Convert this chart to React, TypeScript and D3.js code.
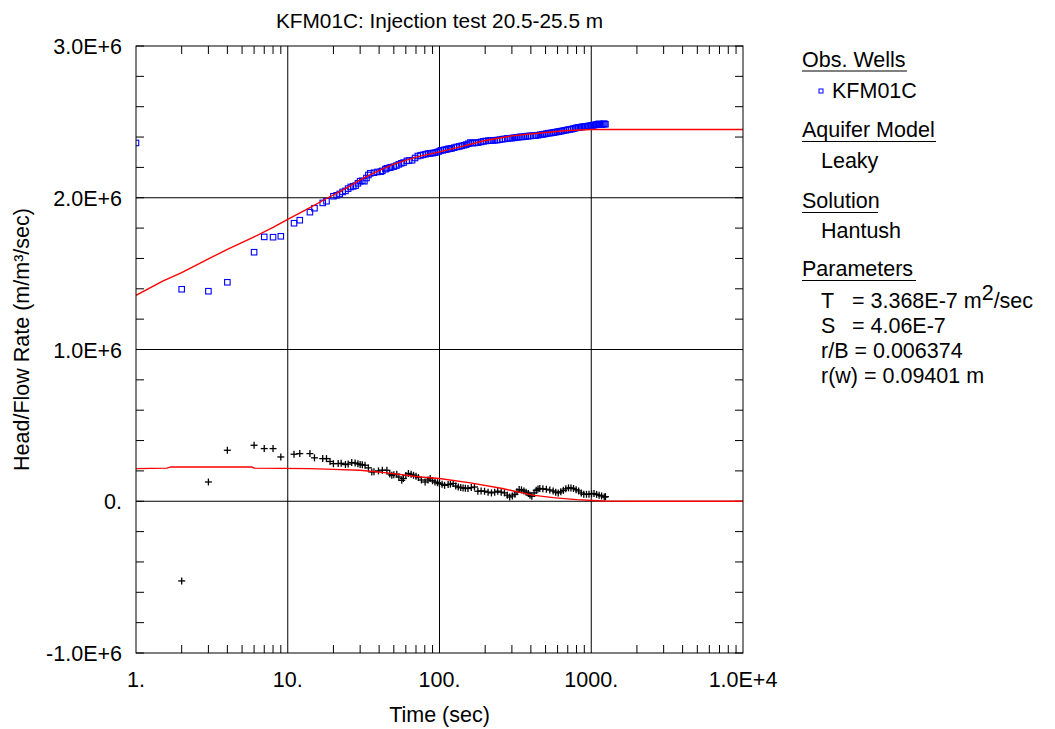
import React from "react";
import * as d3 from "d3";

// ---- Data (values in units of 1E+6 m/m³/sec) ----
const headT = [1,2,3,4,6,7,8,9,11,12,14,15,17,18,20,21,23,24,26,28,30,32,35,39,42,45,48,52,56,61,66,72,78,84,90,96,102,108,114,120,130,140,150,160,170,180,195,210,225,240,260,280,300,320,340,360,380,400,430,460,490,520,550,580,610,640,680,720,760,800,840,880,920,960,1000,1040,1080,1120,1160,1200,1240,
  22,25,27,29,31,33,34,37,41,44,47,50,54,58,63,69,75,81,87,93,99,105,111,117,125,135,145,155,165,175,188,202,217,232,250,270,290,310,330,350,370,390,415,445,475,505,535,565,595,625,660,700,740,780,820,860,900,940,980,1020,1060,1100,1140,1180,1220];
const headV = [2.361,1.397,1.384,1.443,1.641,1.742,1.740,1.746,1.832,1.852,1.905,1.931,1.966,1.977,2.010,2.016,2.038,2.045,2.071,2.080,2.109,2.109,2.161,2.170,2.177,2.194,2.201,2.212,2.227,2.243,2.247,2.275,2.283,2.291,2.294,2.300,2.312,2.316,2.322,2.325,2.335,2.342,2.350,2.364,2.361,2.364,2.372,2.376,2.378,2.380,2.386,2.391,2.393,2.397,2.401,2.402,2.406,2.408,2.410,2.415,2.419,2.425,2.428,2.432,2.436,2.440,2.445,2.450,2.455,2.461,2.464,2.468,2.470,2.473,2.475,2.479,2.481,2.487,2.483,2.486,2.484,
  2.025,2.060,2.075,2.095,2.112,2.130,2.150,2.165,2.172,2.188,2.198,2.205,2.220,2.232,2.245,2.262,2.279,2.287,2.292,2.297,2.305,2.313,2.318,2.323,2.330,2.338,2.346,2.356,2.360,2.363,2.368,2.374,2.377,2.379,2.383,2.388,2.392,2.395,2.399,2.401,2.404,2.407,2.409,2.412,2.417,2.422,2.426,2.430,2.434,2.438,2.443,2.448,2.452,2.458,2.463,2.466,2.469,2.471,2.474,2.477,2.480,2.484,2.485,2.484,2.488];

const derivT = [2,3,4,6,7,8,9,11,12,14,15,17,18,20,21.5,24,26.4,27.8,30,32.3,35.8,39.6,45,48.5,52.3,56.4,57.8,62.4,67.4,72.6,80.4,86.8,93.4,100,104,108,114,118,123,128,133,138,143,148,154,162,170,179,188,198,209,220,231,242,255,268,280,290,302,314,324,335,347,360,372,385,395,406,420,434,446,458,480,506,533,561,583,606,630,655,680,708,735,764,795,826,860,893,930,966,1005,1043,1085,1127,1170,1218,1240,
  19,22.5,25,29,31,34,37,42,47,50,54,60,65,70,76,84,90,97];
const derivV = [-0.525,0.127,0.336,0.369,0.347,0.347,0.292,0.310,0.314,0.314,0.286,0.281,0.281,0.248,0.248,0.242,0.255,0.252,0.242,0.237,0.193,0.200,0.204,0.171,0.178,0.138,0.150,0.183,0.171,0.156,0.127,0.150,0.127,0.117,0.112,0.105,0.110,0.113,0.117,0.100,0.094,0.090,0.088,0.086,0.084,0.090,0.094,0.066,0.068,0.066,0.060,0.055,0.060,0.066,0.060,0.055,0.040,0.028,0.035,0.046,0.062,0.077,0.075,0.068,0.060,0.051,0.040,0.033,0.055,0.072,0.080,0.084,0.082,0.079,0.074,0.068,0.060,0.055,0.062,0.072,0.082,0.088,0.088,0.084,0.076,0.068,0.055,0.046,0.046,0.046,0.050,0.051,0.045,0.040,0.035,0.028,0.030,
  0.262,0.250,0.245,0.247,0.240,0.220,0.195,0.205,0.180,0.175,0.160,0.170,0.178,0.165,0.140,0.140,0.135,0.122];

const fitT = [1,1.5,2,3,4,6,8,10,14,18,25,30,40,50,70,100,150,200,300,500,700,1000,10000];
const fitV = [1.357,1.450,1.507,1.597,1.660,1.742,1.805,1.858,1.935,1.995,2.070,2.118,2.180,2.222,2.268,2.302,2.345,2.377,2.408,2.430,2.443,2.450,2.450];

const derivFitT = [1,1.6,1.7,5.8,6,14,20,30,45,75,100,160,260,410,560,800,1200,2000,10000];
const derivFitV = [0.215,0.218,0.226,0.226,0.218,0.215,0.210,0.204,0.187,0.160,0.150,0.121,0.084,0.040,0.024,0.011,0.002,0,0];

const xTickVals = [1, 10, 100, 1000, 10000];
const xTickLabels = ["1.", "10.", "100.", "1000.", "1.0E+4"];
const yTickVals = [3, 2, 1, 0, -1];
const yTickLabels = ["3.0E+6", "2.0E+6", "1.0E+6", "0.", "-1.0E+6"];
const yGridVals = [2, 1, 0];
const xGridVals = [10, 100, 1000];

const W = 1055, H = 729;
const L = 136, R = 743, T = 46, B = 653;
const FONT = "Arial, 'Liberation Sans', sans-serif";
const FS = 21.5;

export default function App() {
  const x = d3.scaleLog().domain([1, 10000]).range([L, R]);
  const y = d3.scaleLinear().domain([-1, 3]).range([B, T]);

  const minorX: number[] = [];
  for (let d = 1; d < 10000; d *= 10) for (let k = 2; k <= 9; k++) minorX.push(d * k);
  const minorY = d3.range(-1, 3.0001, 0.2).map((v) => Math.round(v * 10) / 10);

  const line = d3.line<[number, number]>().x((d) => x(d[0])).y((d) => y(d[1]));
  const fitPath = line(fitT.map((t, i) => [t, fitV[i]]) as [number, number][]) || "";
  const derivFitPath = line(derivFitT.map((t, i) => [t, derivFitV[i]]) as [number, number][]) || "";

  const sq = 5.5;
  const cr = 3.5;

  const lx = 802;
  return (
    <svg width={W} height={H} style={{ position: "absolute", left: 0, top: 0, background: "#fff" }} fontFamily={FONT}>
      <defs>
        <clipPath id="plotclip">
          <rect x={L} y={T} width={R - L} height={B - T} />
        </clipPath>
      </defs>
      <rect x={0} y={0} width={W} height={H} fill="#fff" />
      <text x={(L + R) / 2} y={28} textAnchor="middle" fontSize={20.8} fill="#000">KFM01C: Injection test 20.5-25.5 m</text>

      {xGridVals.map((v) => (
        <line key={"gx" + v} x1={x(v)} x2={x(v)} y1={T} y2={B} stroke="#000" strokeWidth={1} />
      ))}
      {yGridVals.map((v) => (
        <line key={"gy" + v} x1={L} x2={R} y1={y(v)} y2={y(v)} stroke="#000" strokeWidth={1} />
      ))}

      {minorX.map((v) => (
        <g key={"mx" + v}>
          <line x1={x(v)} x2={x(v)} y1={B} y2={B - 8} stroke="#000" />
          <line x1={x(v)} x2={x(v)} y1={T} y2={T + 8} stroke="#000" />
        </g>
      ))}
      {minorY.map((v) => (
        <g key={"my" + v}>
          <line x1={L} x2={L + 8} y1={y(v)} y2={y(v)} stroke="#000" />
          <line x1={R} x2={R - 8} y1={y(v)} y2={y(v)} stroke="#000" />
        </g>
      ))}

      <g clipPath="url(#plotclip)">
        {derivT.map((t, i) => (
          <g key={"d" + i} stroke="#000" strokeWidth={1.3}>
            <line x1={x(t) - cr} x2={x(t) + cr} y1={y(derivV[i])} y2={y(derivV[i])} />
            <line x1={x(t)} x2={x(t)} y1={y(derivV[i]) - cr} y2={y(derivV[i]) + cr} />
          </g>
        ))}
        {headT.map((t, i) => (
          <rect key={"h" + i} x={x(t) - sq / 2} y={y(headV[i]) - sq / 2} width={sq} height={sq} fill="none" stroke="#0000ff" strokeWidth={1.1} />
        ))}
        <path d={fitPath} fill="none" stroke="#ff0000" strokeWidth={1.4} />
        <path d={derivFitPath} fill="none" stroke="#ff0000" strokeWidth={1.4} />
      </g>

      <rect x={L} y={T} width={R - L} height={B - T} fill="none" stroke="#000" strokeWidth={1} />

      {xTickVals.map((v, i) => (
        <text key={"xl" + v} x={x(v)} y={687} textAnchor="middle" fontSize={FS} fill="#000">{xTickLabels[i]}</text>
      ))}
      {yTickVals.map((v, i) => (
        <text key={"yl" + v} x={122} y={y(v) + 8} textAnchor="end" fontSize={FS} fill="#000">{yTickLabels[i]}</text>
      ))}
      <text x={(L + R) / 2} y={722} textAnchor="middle" fontSize={FS} fill="#000">Time (sec)</text>
      <text transform={`translate(29,${(T + B) / 2 - 10}) rotate(-90)`} textAnchor="middle" fontSize={FS} fill="#000">Head/Flow Rate (m/m³/sec)</text>

      <g fontSize={FS} fill="#000">
        <text x={lx} y={66.7}>Obs. Wells</text>
        <line x1={lx} x2={907} y1={71} y2={71} stroke="#000" />
        <rect x={819} y={89} width={4} height={4} fill="none" stroke="#0000ff" strokeWidth={1} />
        <text x={832} y={98.3}>KFM01C</text>
        <text x={lx} y={136.7}>Aquifer Model</text>
        <line x1={lx} x2={936} y1={141.5} y2={141.5} stroke="#000" />
        <text x={821} y={168.3}>Leaky</text>
        <text x={lx} y={207.7}>Solution</text>
        <line x1={lx} x2={878} y1={212.5} y2={212.5} stroke="#000" />
        <text x={821} y={238.3}>Hantush</text>
        <text x={lx} y={275.7}>Parameters</text>
        <line x1={lx} x2={916} y1={280.5} y2={280.5} stroke="#000" />
        <text x={821} y={308.3}>T</text>
        <text x={852} y={308.3}>= 3.368E-7 m<tspan dy={-8}>2</tspan><tspan dy={8}>/sec</tspan></text>
        <text x={821} y={333.3}>S</text>
        <text x={852} y={333.3}>= 4.06E-7</text>
        <text x={821} y={358.3}>r/B = 0.006374</text>
        <text x={821} y={383.3}>r(w) = 0.09401 m</text>
      </g>
    </svg>
  );
}
